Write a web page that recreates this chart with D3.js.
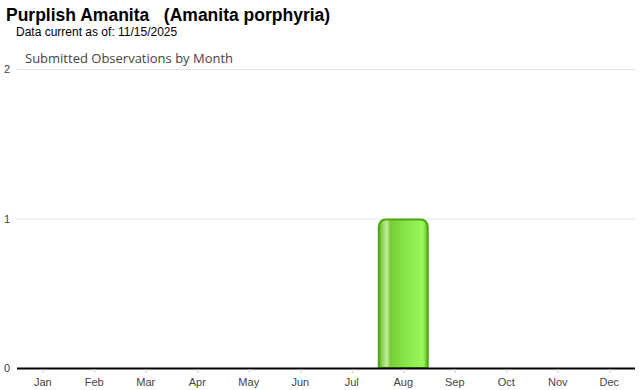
<!DOCTYPE html>
<html>
<head>
<meta charset="utf-8">
<script src="https://cdn.jsdelivr.net/npm/d3@7"></script>
<style>
  body { margin: 0; background: #fff; }
  svg { display: block; }
  text { white-space: pre; }
</style>
</head>
<body>
<script>
const months = ['Jan','Feb','Mar','Apr','May','Jun','Jul','Aug','Sep','Oct','Nov','Dec'];
const counts = [0,0,0,0,0,0,0,1,0,0,0,0];
const yTicks = [0,1,2];

const W = 640, H = 390;
const m = {left: 17, right: 5, top: 69, bottom: 22};

const svg = d3.select('body').append('svg')
  .attr('width', W).attr('height', H);

const x = d3.scaleBand().domain(months).range([m.left, W - m.right]).paddingInner(0.03).paddingOuter(0.015);
const y = d3.scaleLinear().domain([0, 2]).range([H - m.bottom, m.top]);

const defs = svg.append('defs');
const grad = defs.append('linearGradient').attr('id', 'barGrad').attr('x1', 0).attr('x2', 1).attr('y1', 0).attr('y2', 0);
[[0, '#5cb820'], [0.08, '#8fd65a'], [0.16, '#c3ec9c'], [0.24, '#76cc34'], [0.55, '#86e64a'], [0.9, '#98f85c'], [1, '#62bc24']]
  .forEach(([o, c]) => grad.append('stop').attr('offset', o).attr('stop-color', c));

svg.append('text').attr('x', 6).attr('y', 21)
  .style('font', 'bold 17.5px "Liberation Sans", Arial, sans-serif').attr('fill', '#000')
  .text('Purplish Amanita   (Amanita porphyria)');
svg.append('text').attr('x', 16).attr('y', 36)
  .style('font', '12px "Liberation Sans", Arial, sans-serif').attr('fill', '#000')
  .text('Data current as of: 11/15/2025');
svg.append('text').attr('x', 25).attr('y', 63)
  .style('font', '13px "Open Sans", "DejaVu Sans", sans-serif').attr('fill', '#444')
  .text('Submitted Observations by Month');

// grid
svg.append('g').selectAll('line').data(yTicks.filter(d => d > 0)).join('line')
  .attr('x1', m.left).attr('x2', W - m.right)
  .attr('y1', d => y(d) + 0.5).attr('y2', d => y(d) + 0.5)
  .attr('stroke', '#e2e2e2');

svg.append('g').selectAll('text').data(yTicks).join('text')
  .attr('x', 7).attr('y', d => y(d) + 4).attr('text-anchor', 'middle')
  .style('font', '11px "Liberation Sans", Arial, sans-serif').attr('fill', '#444')
  .text(d => d);

// bars
const bx = months.map((mo, i) => ({mo, v: counts[i]})).filter(d => d.v > 0);
const r = 7;
svg.append('g').selectAll('path').data(bx).join('path')
  .attr('d', d => {
    const x0 = x(d.mo) + 0.5, x1 = x(d.mo) + x.bandwidth() - 0.5, y0 = y(d.v) + 1, yb = y(0);
    const p = d3.path();
    p.moveTo(x0, yb);
    p.lineTo(x0, y0 + r);
    p.arcTo(x0, y0, x0 + r, y0, r);
    p.lineTo(x1 - r, y0);
    p.arcTo(x1, y0, x1, y0 + r, r);
    p.lineTo(x1, yb);
    p.closePath();
    return p.toString();
  })
  .attr('fill', 'url(#barGrad)')
  .attr('stroke', '#4ea80c').attr('stroke-width', 2);

// x axis
svg.append('line').attr('x1', m.left).attr('x2', W - m.right)
  .attr('y1', y(0) + 0.5).attr('y2', y(0) + 0.5).attr('stroke', '#000').attr('stroke-width', 2);
svg.append('g').selectAll('line').data(months).join('line')
  .attr('x1', d => x(d) + x.bandwidth() / 2 + 0.5).attr('x2', d => x(d) + x.bandwidth() / 2 + 0.5)
  .attr('y1', y(0) + 1).attr('y2', y(0) + 5).attr('stroke', '#ccc');
svg.append('g').selectAll('text').data(months).join('text')
  .attr('x', d => x(d) + x.bandwidth() / 2).attr('y', y(0) + 18).attr('text-anchor', 'middle')
  .style('font', '11px "Liberation Sans", Arial, sans-serif').attr('fill', '#444')
  .text(d => d);
</script>
</body>
</html>
